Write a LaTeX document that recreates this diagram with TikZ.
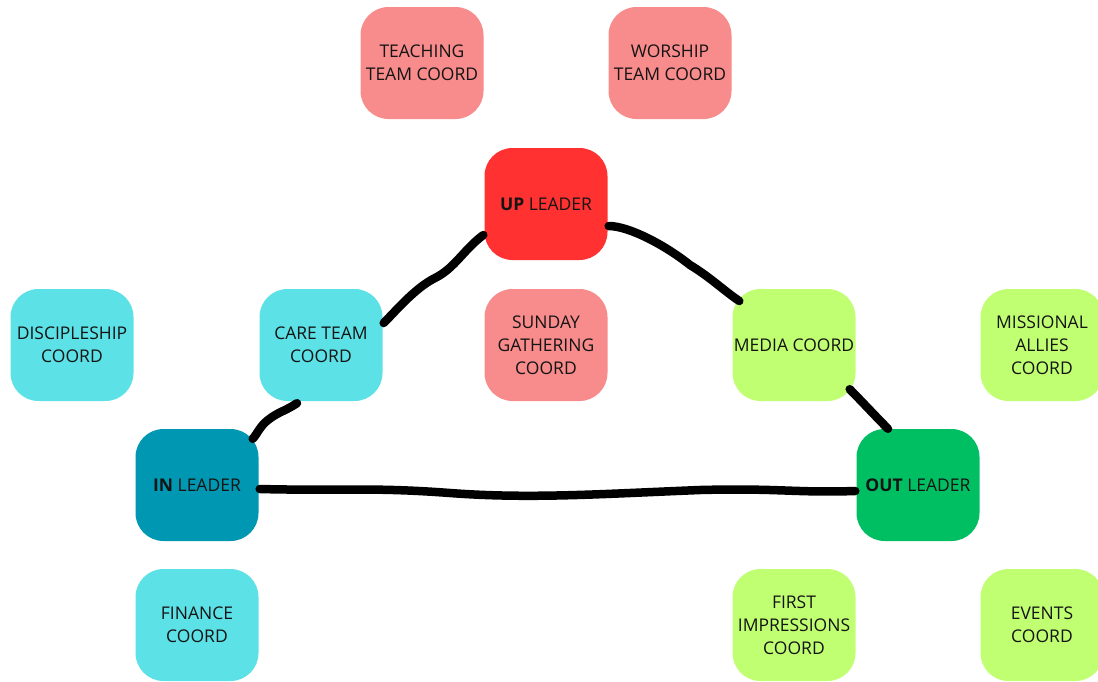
\documentclass[tikz,border=0pt]{standalone}
\usepackage{fontspec}
\setmainfont{Open Sans}
\definecolor{pinkc}{HTML}{F88B8B}
\definecolor{redc}{HTML}{FF3131}
\definecolor{cyanc}{HTML}{5CE1E6}
\definecolor{tealc}{HTML}{0097B2}
\definecolor{limec}{HTML}{C1FF72}
\definecolor{greenc}{HTML}{00BF63}
\definecolor{txt}{HTML}{141414}
\tikzset{
  box/.style={rounded corners=28pt, minimum width=123pt, minimum height=112pt,
    inner sep=0pt, align=center, text=txt, font=\fontsize{17.5}{23}\selectfont},
  link/.style={line width=8.5pt, line cap=round, line join=round, black}
}
\begin{document}
\begin{tikzpicture}[x=1pt,y=-1pt]
\useasboundingbox (0,0) rectangle (1098,681);
\clip (0,0) rectangle (1098,681);
\node[box, fill=pinkc] (teach) at (422,63) {TEACHING\\TEAM COORD};
\node[box, fill=pinkc] (worship) at (670,63) {WORSHIP\\TEAM COORD};
\node[box, fill=redc] (up) at (546,204) {\textbf{UP} LEADER};
\node[box, fill=cyanc] (disc) at (72,345) {DISCIPLESHIP\\COORD};
\node[box, fill=cyanc] (care) at (321,345) {CARE TEAM\\COORD};
\node[box, fill=pinkc] (sunday) at (546,345) {SUNDAY\\GATHERING\\COORD};
\node[box, fill=limec] (media) at (794,345) {MEDIA COORD};
\node[box, fill=limec] (miss) at (1042,345) {MISSIONAL\\ALLIES\\COORD};
\node[box, fill=tealc] (in) at (197,485) {\textbf{IN} LEADER};
\node[box, fill=greenc] (out) at (918,485) {\textbf{OUT} LEADER};
\node[box, fill=cyanc] (fin) at (197,625) {FINANCE\\COORD};
\node[box, fill=limec] (first) at (794,625) {FIRST\\IMPRESSIONS\\COORD};
\node[box, fill=limec] (events) at (1042,625) {EVENTS\\COORD};
% connectors
\draw[link] ([shift={(-1,31)}]up.west) .. controls +(-20,15) and +(20,-10) .. (435,278)
  .. controls +(-20,10) and +(12,-12) .. ([shift={(1,-22)}]care.east);
\draw[link] ([shift={(-24,2)}]care.south) .. controls +(-12,8) and +(10,-8) .. (268,420)
  .. controls +(-8,6) and +(4,-4) .. ([shift={(-6,10)}]in.north east);
\draw[link] ([shift={(1,4)}]in.east) .. controls +(80,2) and +(-80,-6) .. (450,493)
  .. controls +(80,6) and +(-100,4) .. (700,490)
  .. controls +(80,-2) and +(-60,2) .. ([shift={(-1,6)}]out.west);
\draw[link] ([shift={(1,22)}]up.east) .. controls +(20,0) and +(-25,-20) .. (690,265)
  .. controls +(20,12) and +(-15,-10) .. ([shift={(7,-44)}]media.west);
\draw[link] ([shift={(-6,-12)}]media.south east) .. controls +(10,10) and +(-12,-12) .. ([shift={(-30,0)}]out.north);
\end{tikzpicture}
\end{document}
